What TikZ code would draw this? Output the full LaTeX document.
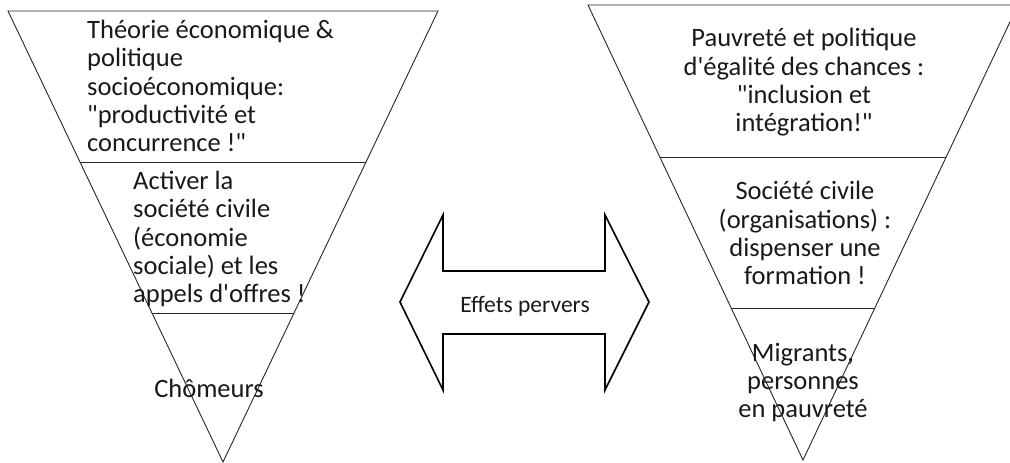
\documentclass[tikz,border=0pt]{standalone}
\usepackage{fontspec}
\setmainfont{Carlito}[Ligatures=TeXOff]
\begin{document}
\begin{tikzpicture}[x=1pt,y=1pt,
  tri/.style={draw=black!85, line width=0.9pt, line join=miter},
  sep/.style={draw=black!85, line width=0.9pt},
  arr/.style={draw=black, line width=1.6pt, line join=miter},
  lbl/.style={inner sep=0pt, font=\fontsize{26.5}{28.4}\selectfont, text=black!90},
  albl/.style={inner sep=0pt, font=\fontsize{23.5}{26}\selectfont, text=black!90}]
\clip (0,0) rectangle (1010,463);
% left triangle
\coordinate (LA) at (8,452);
\coordinate (LB) at (438,452);
\coordinate (LC) at (223,1);
\draw[tri] (LA) -- (LB) -- (LC) -- cycle;
\coordinate (L1a) at (80,301); \coordinate (L1b) at (366,301);
\coordinate (L2a) at (152,150); \coordinate (L2b) at (294,150);
\draw[sep] (L1a) -- (L1b);
\draw[sep] (L2a) -- (L2b);
% right triangle
\coordinate (RA) at (588,458);
\coordinate (RB) at (1018,458);
\coordinate (RC) at (803,3);
\draw[tri] (RA) -- (RB) -- (RC) -- cycle;
\coordinate (R1a) at (660,306); \coordinate (R1b) at (946,306);
\coordinate (R2a) at (731,155); \coordinate (R2b) at (875,155);
\draw[sep] (R1a) -- (R1b);
\draw[sep] (R2a) -- (R2b);
% double arrow
\draw[arr] (400,161) -- (443,248) -- (443,192) -- (605,192) -- (605,248) -- (649,161)
  -- (605,73) -- (605,129) -- (443,129) -- (443,73) -- cycle;
\node[albl, anchor=base] (arrtxt) at (525,150) {Effets pervers};
% texts (anchor base = baseline of last line)
\node[lbl, anchor=base west, align=left] (lt) at (87,311)
  {Théorie économique \&\\politique\\socioéconomique:\\"productivité et\\concurrence !"};
\node[lbl, anchor=base west, align=left] (lm) at (133,160)
  {Activer la\\société civile\\(économie\\sociale) et les\\appels d'offres !};
\node[lbl, anchor=base] (lb) at (209,65) {Chômeurs};
\node[lbl, anchor=base, align=center] (rt) at (804,331)
  {Pauvreté et politique\\d'égalité des chances :\\"inclusion et\\intégration!"};
\node[lbl, anchor=base, align=center] (rm) at (805,178)
  {Société civile\\(organisations) :\\dispenser une\\formation !};
\node[lbl, anchor=base, align=center] (rb) at (803,45)
  {Migrants,\\personnes\\en pauvreté};
\end{tikzpicture}
\end{document}
